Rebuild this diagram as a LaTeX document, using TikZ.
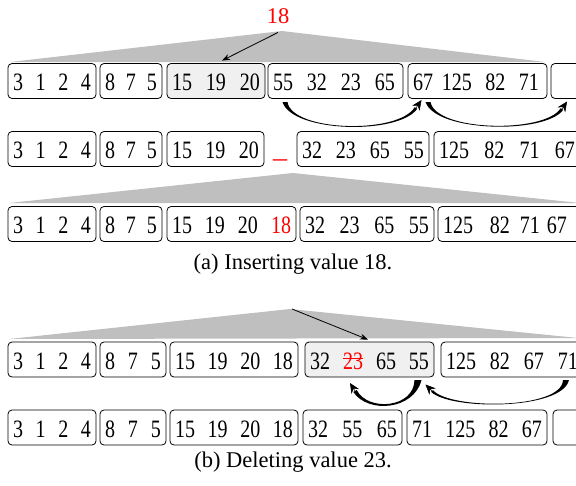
\documentclass[tikz,border=0pt]{standalone}
\usepackage{fontspec}
\setmainfont{Liberation Serif}
\newfontfamily\boxfont{Liberation Serif}[FakeStretch=0.8]
\usetikzlibrary{arrows.meta,calc}
\newcommand\bfs{\boxfont\fontsize{25}{30}\selectfont}
\newcommand\cfs{\fontsize{22.5}{27}\selectfont}
\newcommand\strikered[1]{\textcolor{red}{\setbox0=\hbox{#1}\rlap{\rule[0.4em]{\wd0}{0.8pt}}\box0}}
\newcommand\bx[6][]{%
  \pgfmathsetmacro\bxw{#4-#3}%
  \pgfmathsetmacro\bxc{(#3+#4)/2}%
  \pgfmathsetmacro\bxt{#4-#3-10}%
  \node[cell,#1,minimum width=\bxw pt] (#2) at (\bxc,#5) {\hbox to \bxt pt{#6}};}
\newcommand\crescent[8]{%
  \fill ($(#1)+(#5)$) .. controls ($(#2)+(#6)$) and ($(#3)+(#6)$) .. ($(#4)+(#7)$) -- ($(#4)-(#7)$) .. controls ($(#3)-(#6)$) and ($(#2)-(#6)$) .. ($(#1)-(#5)$) -- cycle;
  \draw[head] (#4) -- (#8);}
\begin{document}
\begin{tikzpicture}[x=1pt,y=-1pt,
  cell/.style={draw, rounded corners=4pt, line width=0.8pt, inner xsep=0pt, inner ysep=0pt,
    minimum height=35pt, text height=27pt, text depth=8pt, font=\bfs},
  hl/.style={fill=gray!12},
  tri/.style={fill=gray!50},
  ptr/.style={-{Stealth[length=8pt,width=6pt]}, line width=0.8pt},
  head/.style={-{Stealth[length=10pt,width=9pt]}, line width=0.5pt},
  lbl/.style={inner sep=0pt, anchor=base, font=\cfs}]
\useasboundingbox (0,0) rectangle (576,485);
\clip (0,0) rectangle (576,485);

% ---------- (a) ----------
\fill[tri] (10,62) -- (282,31) -- (545,62) -- cycle;
\node[lbl, text=red] (v18) at (278,23) {18};

\bx{r1c1}{8}{96}{81}{3\hfill 1\hfill 2\hfill 4}
\bx{r1c2}{100}{162}{81}{8\hfill 7\hfill 5}
\bx[hl]{r1c3}{167}{265}{81}{15\hfill 19\hfill 20}
\bx{r1c4}{268}{403}{81}{55\hfill 32\hfill 23\hfill 65\hspace{3pt}}
\bx{r1c5}{408}{547}{81}{67\hspace{9pt}125\hfill 82\hfill 71\hspace{3pt}}
\bx{r1c6}{551}{610}{81}{}

\draw[ptr] ([yshift=-9pt]v18.south) -- ([xshift=6pt,yshift=2.5pt]r1c3.north);

\crescent{285,102}{292,132}{398,135}{416,108}{-2.5,0}{0,0.4}{1.25,0.8}{421.5,100}
\crescent{428,102}{436,132}{545,134}{562,109}{-2.5,0}{0,0.4}{1.25,0.84}{567,101.5}

\bx{r2c1}{8}{96}{149}{3\hfill 1\hfill 2\hfill 4}
\bx{r2c2}{100}{162}{149}{8\hfill 7\hfill 5}
\bx{r2c3}{167}{264}{149}{15\hfill 19\hfill 20}
\node[lbl, font=\fontsize{28}{32}\selectfont, text=red] (gap) at (280,157) {\_};
\bx{r2c4}{297}{429}{149}{32\hfill 23\hfill 65\hfill 55}
\bx{r2c5}{434}{582}{149}{125\hfill 82\hfill 71\hfill 67\hspace{2pt}}

\fill[tri] (9,203) -- (293,173) -- (580,203) -- cycle;

\bx{r3c1}{8}{96}{224}{3\hfill 1\hfill 2\hfill 4}
\bx{r3c2}{100}{162}{224}{8\hfill 7\hfill 5}
\bx{r3c3}{167}{296}{224}{15\hfill 19\hfill 20\hfill \textcolor{red}{18}}
\bx{r3c4}{300}{434}{224}{32\hfill 23\hfill 65\hfill 55}
\bx{r3c5}{438}{586}{224}{125\hfill 82\hspace{10pt}71\hspace{7pt}67\hspace{14pt}}

\node[lbl] (capa) at (293,269) {(a) Inserting value 18.};

% ---------- (b) ----------
\fill[tri] (9,339) -- (290,309) -- (578,338) -- cycle;
\coordinate (apexb) at (292,309);

\bx{r4c1}{8}{96}{359.5}{3\hfill 1\hfill 2\hfill 4}
\bx{r4c2}{100}{166}{359.5}{8\hfill 7\hfill 5}
\bx{r4c3}{170}{298}{359.5}{15\hfill 19\hfill 20\hfill 18}
\bx[hl]{r4c4}{305}{434}{359.5}{32\hfill \strikered{23}\hfill 65\hfill 55}
\bx{r4c5}{441}{590}{359.5}{125\hfill 82\hfill 67\hfill 71\hspace{7pt}}

\draw[ptr] (apexb) -- ([xshift=-1.5pt,yshift=2pt]r4c4.north);

\crescent{418,380}{414,409}{368,413}{355,391}{3.5,0}{0,1}{-1.7,1}{350,383}
\crescent{566,380}{562,410}{450,410}{432,391}{3,0}{0,0.3}{-0.9,0.86}{425.5,384.5}

\bx{r5c1}{8}{96}{427.5}{3\hfill 1\hfill 2\hfill 4}
\bx{r5c2}{100}{166}{427.5}{8\hfill 7\hfill 5}
\bx{r5c3}{170}{298}{427.5}{15\hfill 19\hfill 20\hfill 18}
\bx{r5c4}{303}{402}{427.5}{32\hfill 55\hfill 65}
\bx{r5c5}{407}{547}{427.5}{71\hfill 125\hfill 82\hfill 67}
\bx{r5c6}{553}{610}{427.5}{}

\node[lbl] (capb) at (293,467) {(b) Deleting value 23.};
\end{tikzpicture}
\end{document}
